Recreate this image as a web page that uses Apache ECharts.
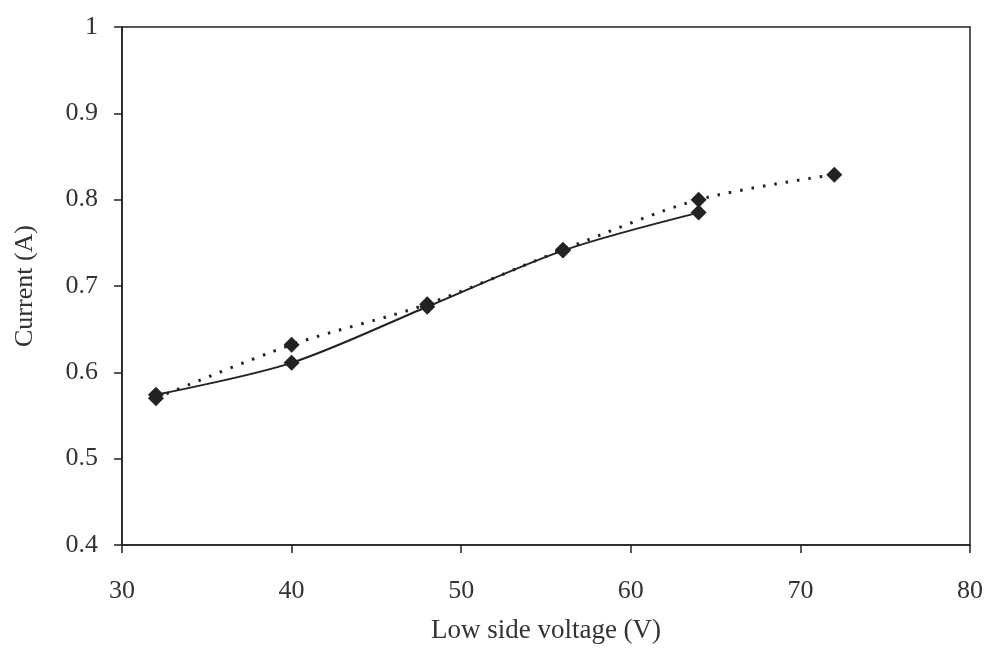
<!DOCTYPE html>
<html><head><meta charset="utf-8">
<script src="https://cdn.jsdelivr.net/npm/echarts@6/dist/echarts.min.js"></script>
<style>html,body{margin:0;padding:0;background:#fff}#c{width:991px;height:649px}</style>
</head><body><div id="c"></div>
<script>
const solidX = [32, 40, 48, 56, 64];
const solidY = [0.574, 0.611, 0.676, 0.741, 0.785];
const dottedX = [32, 40, 48, 56, 64, 72];
const dottedY = [0.570, 0.632, 0.679, 0.742, 0.800, 0.829];
const xName = 'Low side voltage (V)';
const yName = 'Current (A)';

const font = 'Liberation Serif';
const col = '#222';
const txt = '#333';
const chart = echarts.init(document.getElementById('c'), null, {renderer: 'canvas'});
chart.setOption({
  animation: false,
  backgroundColor: '#fff',
  grid: {left: 122, right: 21, top: 27, bottom: 104, show: true, borderColor: col, borderWidth: 1.5},
  xAxis: {
    type: 'value', min: 30, max: 80, interval: 10,
    name: xName, nameLocation: 'middle', nameGap: 72,
    nameTextStyle: {fontFamily: font, fontSize: 27, color: txt},
    axisLine: {show: true, onZero: false, lineStyle: {color: col, width: 1.5}},
    axisTick: {show: true, length: 8, lineStyle: {color: col, width: 1.5}},
    axisLabel: {fontFamily: font, fontSize: 26, color: txt, margin: 33},
    splitLine: {show: false}
  },
  yAxis: {
    type: 'value', min: 0.4, max: 1, interval: 0.1,
    name: yName, nameLocation: 'middle', nameGap: 84,
    nameTextStyle: {fontFamily: font, fontSize: 26, color: txt},
    axisLine: {show: true, onZero: false, lineStyle: {color: col, width: 1.5}},
    axisTick: {show: true, length: 8, lineStyle: {color: col, width: 1.5}},
    axisLabel: {fontFamily: font, fontSize: 26, color: txt, margin: 24},
    splitLine: {show: false}
  },
  series: [
    {
      type: 'line', smooth: 0.3,
      data: dottedX.map((x, i) => [x, dottedY[i]]),
      symbol: 'diamond', symbolSize: 16,
      itemStyle: {color: col},
      lineStyle: {color: col, width: 3, type: [2.5, 9]}
    },
    {
      type: 'line', smooth: 0.3,
      data: solidX.map((x, i) => [x, solidY[i]]),
      symbol: 'diamond', symbolSize: 16,
      itemStyle: {color: col},
      lineStyle: {color: col, width: 2}
    }
  ]
});
</script></body></html>
